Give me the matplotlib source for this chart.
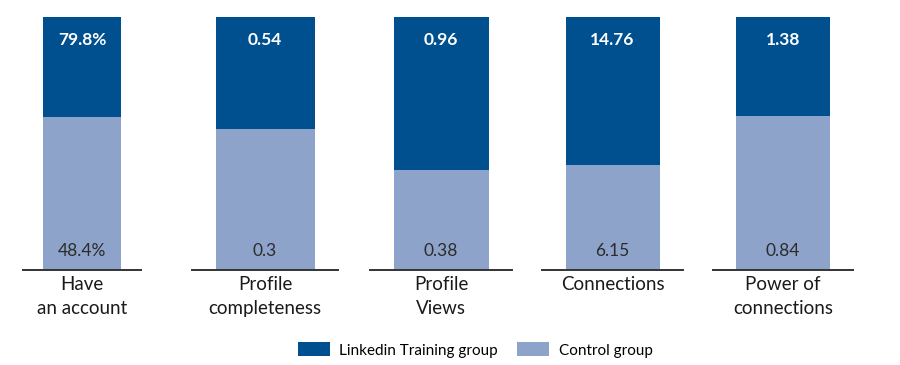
import matplotlib.pyplot as plt
from matplotlib.patches import Patch

# Data
categories = ["Have\nan account", "Profile\ncompleteness", "Profile\nViews",
              "Connections", "Power of\nconnections"]
training = [79.8, 0.54, 0.96, 14.76, 1.38]
control = [48.4, 0.3, 0.38, 6.15, 0.84]
training_labels = ["79.8%", "0.54", "0.96", "14.76", "1.38"]
control_labels = ["48.4%", "0.3", "0.38", "6.15", "0.84"]

dark = "#00508f"
light = "#8ea3ca"
plt.rcParams['font.family'] = ['Lato', 'DejaVu Sans']

W, H = 900, 365
fig = plt.figure(figsize=(W / 100, H / 100), dpi=100)

# panel spans (px) in the picture: baseline left/right
spans = [(23, 141), (192, 338), (370, 512), (542, 683), (713, 853)]
bar_px = [78, 99, 95, 94, 94]
top_px, base_px = 17, 270

for i, (x0, x1) in enumerate(spans):
    ax = fig.add_axes([x0 / W, 1 - base_px / H, (x1 - x0) / W, (base_px - top_px) / H])
    bw = bar_px[i] / (x1 - x0)
    ax.bar(0, training[i], width=bw, color=dark)
    ax.bar(0, control[i], width=bw, color=light)
    ax.set_xlim(-0.5, 0.5)
    ax.set_ylim(0, training[i])
    for s in ["top", "left", "right"]:
        ax.spines[s].set_visible(False)
    ax.spines["bottom"].set_color("#333333")
    ax.spines["bottom"].set_linewidth(1.4)
    ax.set_xticks([])
    ax.set_yticks([])
    ax.text(0.5, 0.91, training_labels[i], transform=ax.transAxes, ha="center", va="center",
            color="white", fontsize=12.5, fontweight="bold")
    ax.text(0.5, 0.075, control_labels[i], transform=ax.transAxes, ha="center", va="center",
            color="#2b2b2b", fontsize=12.5)
    ax.text(0.5, -0.025, categories[i], transform=ax.transAxes, ha="center", va="top",
            color="#1a1a1a", fontsize=13.5, linespacing=1.45)

handles = [Patch(facecolor=dark), Patch(facecolor=light)]
fig.legend(handles, ["Linkedin Training group", "Control group"], loc="center",
           bbox_to_anchor=(475 / W, 1 - 350 / H), ncol=2, frameon=False,
           fontsize=11, handlelength=2.1, handleheight=1.0, columnspacing=1.3,
           handletextpad=0.6)

fig.savefig("out.png", dpi=100)
